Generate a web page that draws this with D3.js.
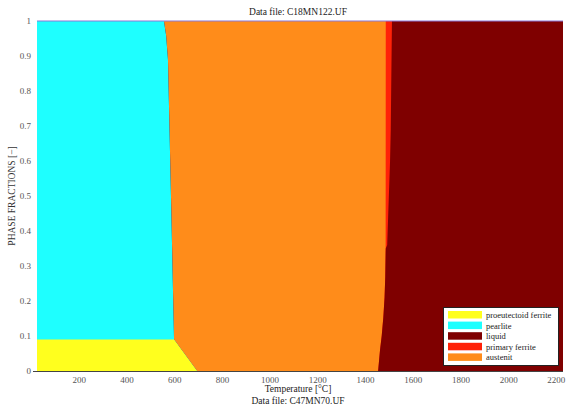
<!DOCTYPE html>
<html>
<head>
<meta charset="utf-8">
<script src="https://cdn.jsdelivr.net/npm/d3@7"></script>
<style>
  html, body { margin: 0; padding: 0; background: #ffffff; }
  svg { display: block; }
  text { font-family: "Liberation Serif", "DejaVu Serif", serif; }
</style>
</head>
<body>
<svg id="chart" width="567" height="411"></svg>
<script>
// Temperature grid [°C] and phase fractions [-] at each temperature
const temperatures   = [25, 557, 566, 574, 587, 599.5, 696, 1455, 1463, 1470, 1477, 1482, 1485, 1486.5, 1487, 1493, 1497, 1501, 1505, 1508, 1510, 1513, 2230];
const proeutectoidFerrite = [0.09, 0.09, 0.09, 0.09, 0.09, 0.09, 0, 0, 0, 0, 0, 0, 0, 0, 0, 0, 0, 0, 0, 0, 0, 0, 0];
const pearlite       = [0.91, 0.91, 0.87, 0.80, 0.40, 0, 0, 0, 0, 0, 0, 0, 0, 0, 0, 0, 0, 0, 0, 0, 0, 0, 0];
const liquid         = [0, 0, 0, 0, 0, 0, 0, 0, 0.06, 0.10, 0.154, 0.21, 0.27, 0.34, 0.35, 0.36, 0.44, 0.52, 0.60, 0.69, 0.82, 1, 1];
const primaryFerrite = [0, 0, 0, 0, 0, 0, 0, 0, 0, 0, 0, 0, 0, 0, 0.65, 0.64, 0.56, 0.48, 0.40, 0.31, 0.18, 0, 0];
const austenit       = [0, 0, 0.04, 0.11, 0.51, 0.91, 1, 1, 0.94, 0.90, 0.846, 0.79, 0.73, 0.66, 0, 0, 0, 0, 0, 0, 0, 0, 0];

const xTicks = [200, 400, 600, 800, 1000, 1200, 1400, 1600, 1800, 2000, 2200];
const yTicks = [0, 0.1, 0.2, 0.3, 0.4, 0.5, 0.6, 0.7, 0.8, 0.9, 1];

const phases = [
  { key: "proeutectoid ferrite", values: proeutectoidFerrite, color: "#ffff1e" },
  { key: "pearlite",             values: pearlite,            color: "#1effff" },
  { key: "liquid",               values: liquid,              color: "#7f0000" },
  { key: "primary ferrite",      values: primaryFerrite,      color: "#ff2208" },
  { key: "austenit",             values: austenit,            color: "#ff8c1a" }
];

const svg = d3.select("#chart");
const plot = { left: 37, right: 563, top: 21, bottom: 371 };

const x = d3.scaleLinear().domain([25, 2230]).range([plot.left, plot.right]);
const y = d3.scaleLinear().domain([0, 1]).range([plot.bottom, plot.top]);

// Table of rows for the stack
const rows = temperatures.map((t, i) => {
  const r = { t };
  phases.forEach(p => { r[p.key] = p.values[i]; });
  return r;
});

const series = d3.stack().keys(phases.map(p => p.key))(rows);
series.forEach((s, i) => { s.color = phases[i].color; });

// Each layer is filled from zero up to its cumulative top, painted from the
// top of the stack downwards so neighbouring layers meet without seams.
const cumulativeArea = d3.area()
  .x(d => x(d.data.t))
  .y0(y(0))
  .y1(d => y(d[1]))
  .curve(d3.curveLinear);

svg.append("g")
  .selectAll("path")
  .data(series.slice().reverse())
  .join("path")
  .attr("d", cumulativeArea)
  .attr("fill", d => d.color);

// Upper frame line at fraction 1
svg.append("line")
  .attr("x1", plot.left).attr("x2", plot.right)
  .attr("y1", y(1)).attr("y2", y(1))
  .attr("stroke", "#8c78d8").attr("stroke-width", 1.2);

// Bottom axis
const xAxis = d3.axisBottom(x).tickValues(xTicks).tickSize(0).tickPadding(6)
  .tickFormat(d3.format("d"));
const gx = svg.append("g").attr("transform", `translate(0,${plot.bottom})`).call(xAxis);
gx.select(".domain").remove();
gx.selectAll("text").attr("fill", "#555").attr("font-size", 9)
  .attr("font-family", "Liberation Serif, serif");

svg.append("line")
  .attr("x1", plot.left - 4).attr("x2", plot.right)
  .attr("y1", plot.bottom + 0.5).attr("y2", plot.bottom + 0.5)
  .attr("stroke", "#444").attr("stroke-width", 1);

// Left axis labels
const yAxis = d3.axisLeft(y).tickValues(yTicks).tickSize(0).tickPadding(6)
  .tickFormat(d => d3.format("")(+d.toFixed(1)));
const gy = svg.append("g").attr("transform", `translate(${plot.left},0)`).call(yAxis);
gy.select(".domain").remove();
gy.selectAll("text").attr("fill", "#555").attr("font-size", 9)
  .attr("font-family", "Liberation Serif, serif");

// Titles
svg.append("text")
  .attr("x", 298).attr("y", 15)
  .attr("text-anchor", "middle").attr("font-size", 9.5).attr("fill", "#222")
  .text("Data file: C18MN122.UF");

svg.append("text")
  .attr("x", 298).attr("y", 392)
  .attr("text-anchor", "middle").attr("font-size", 9.5).attr("fill", "#222")
  .text("Temperature [°C]");

svg.append("text")
  .attr("x", 298).attr("y", 404)
  .attr("text-anchor", "middle").attr("font-size", 9.5).attr("fill", "#222")
  .text("Data file: C47MN70.UF");

svg.append("text")
  .attr("transform", `translate(15,${(plot.top + plot.bottom) / 2}) rotate(-90)`)
  .attr("text-anchor", "middle").attr("font-size", 9.5).attr("fill", "#333")
  .text("PHASE FRACTIONS [−]");

// Legend
const legend = svg.append("g").attr("transform", "translate(443,307)");
legend.append("rect")
  .attr("x", 0.5).attr("y", 0.5).attr("width", 115).attr("height", 58)
  .attr("fill", "#ffffff").attr("stroke", "#222").attr("stroke-width", 1);

const items = legend.selectAll("g.item")
  .data(phases)
  .join("g")
  .attr("class", "item")
  .attr("transform", (d, i) => `translate(5,${4 + i * 10.6})`);
items.append("rect")
  .attr("width", 34).attr("height", 7.5)
  .attr("fill", d => d.color);
items.append("text")
  .attr("x", 38).attr("y", 7)
  .attr("font-size", 8.5).attr("fill", "#222")
  .text(d => d.key);
</script>
</body>
</html>
